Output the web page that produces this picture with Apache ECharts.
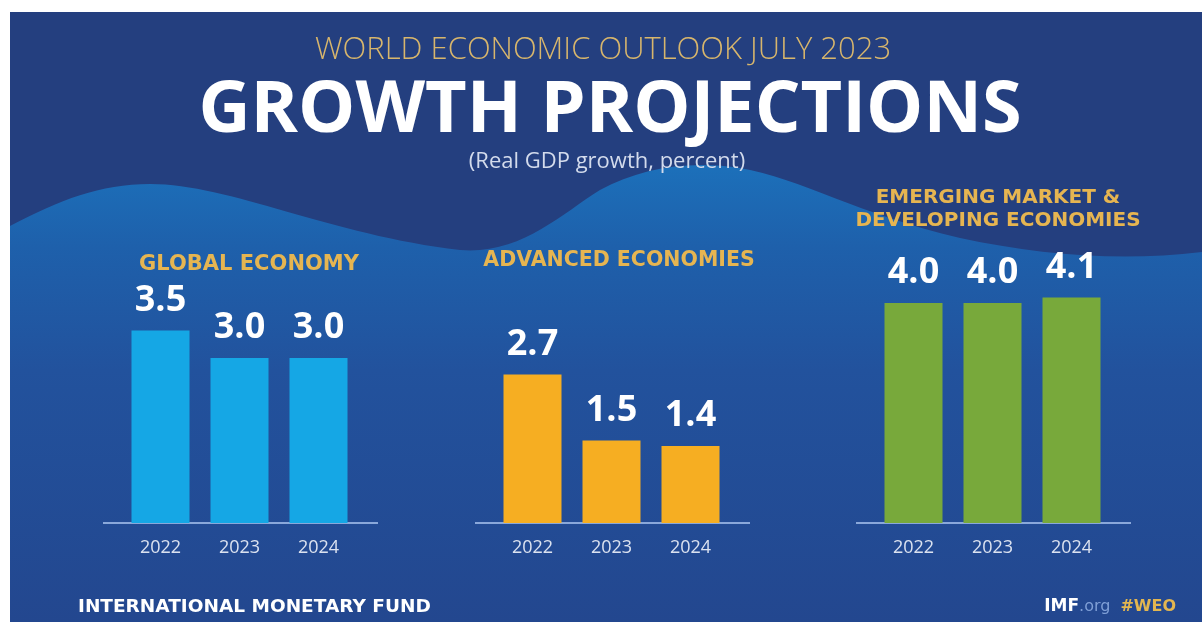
<!DOCTYPE html>
<html>
<head>
<meta charset="utf-8">
<script src="https://cdn.jsdelivr.net/npm/echarts@6/dist/echarts.min.js"></script>
<style>
html,body{margin:0;padding:0;background:#ffffff;}
#chart{width:1202px;height:632px;}
</style>
</head>
<body>
<div id="chart"></div>
<script>
// ---- data ----
const years = ['2022', '2023', '2024'];
const globalGrowth = [3.5, 3.0, 3.0];
const advancedGrowth = [2.7, 1.5, 1.4];
const emergingGrowth = [4.0, 4.0, 4.1];
const panelTitles = ['GLOBAL ECONOMY', 'ADVANCED ECONOMIES', 'EMERGING MARKET &\nDEVELOPING ECONOMIES'];

// ---- layout / style ----
const gridLefts = [121, 493, 874];
const gridWidth = 237;
const gridTop = 248;
const gridHeight = 275;
const baseY = gridTop + gridHeight;
const barColors = ['#15a7e5', '#f6ae22', '#78a93b'];
const gold = '#e6b551';
const seriesData = [globalGrowth, advancedGrowth, emergingGrowth];

const wavePath = 'M10,226 C60,200 100,184 150,184 C230,184 330,235 460,250 ' +
  'C520,255 560,215 600,190 C640,168 690,160 740,168 C800,178 860,215 960,238 ' +
  'C1040,255 1120,262 1202,252 L1202,622 L10,622 Z';
let waveOk = false;
try {
  echarts.graphic.registerShape('wave', echarts.graphic.extendPath(wavePath, {}));
  waveOk = true;
} catch (e) { waveOk = false; }

const chart = echarts.init(document.getElementById('chart'), null, {renderer: 'canvas'});

const grids = gridLefts.map(l => ({left: l, width: gridWidth, top: gridTop, height: gridHeight}));
const xAxes = gridLefts.map((l, i) => ({
  type: 'category', gridIndex: i, data: years,
  axisLine: {show: false}, axisTick: {show: false},
  axisLabel: {color: '#dbe2f0', fontSize: 18, fontFamily: 'Open Sans', margin: 16}
}));
const yAxes = gridLefts.map((l, i) => ({
  type: 'value', gridIndex: i, min: 0, max: 5, show: false, splitLine: {show: false}
}));
const series = seriesData.map((d, i) => ({
  type: 'bar', xAxisIndex: i, yAxisIndex: i, data: d, barWidth: 58,
  itemStyle: {color: barColors[i]},
  label: {
    show: true, position: 'top', distance: 12,
    color: '#ffffff', fontSize: 36, fontWeight: 'bold', fontFamily: 'Open Sans',
    formatter: p => p.value.toFixed(1)
  }
}));

const graphics = [
  {type: 'rect', z: -10, shape: {x: 10, y: 12, width: 1192, height: 610}, style: {fill: '#243f7f'}}
];
if (waveOk) {
  graphics.push({type: 'wave', z: -9,
    style: {fill: new echarts.graphic.LinearGradient(0, 0, 0, 1, [
      {offset: 0, color: '#1c70ba'}, {offset: 0.18, color: '#1e60ab'},
      {offset: 0.45, color: '#22529d'}, {offset: 1, color: '#23478f'}])}});
}
graphics.push(
  {type: 'text', z: 10, x: 603, y: 50, style: {text: 'WORLD ECONOMIC OUTLOOK JULY 2023', fill: '#d8b66c',
    font: '300 31px "Open Sans"', textAlign: 'center', textVerticalAlign: 'middle'}},
  {type: 'text', z: 10, x: 610, y: 111, style: {text: 'GROWTH PROJECTIONS', fill: '#ffffff',
    font: 'bold 72px "Open Sans"', textAlign: 'center', textVerticalAlign: 'middle'}},
  {type: 'text', z: 10, x: 607, y: 162, style: {text: '(Real GDP growth, percent)', fill: '#d3dbec',
    font: '22px "Open Sans"', textAlign: 'center', textVerticalAlign: 'middle'}},
  {type: 'text', z: 10, x: 249, y: 265, style: {text: panelTitles[0], fill: gold,
    font: 'bold 21px "DejaVu Sans"', textAlign: 'center', textVerticalAlign: 'middle'}},
  {type: 'text', z: 10, x: 619, y: 261, style: {text: panelTitles[1], fill: gold,
    font: 'bold 20.5px "DejaVu Sans"', textAlign: 'center', textVerticalAlign: 'middle'}},
  {type: 'text', z: 10, x: 998, y: 209, style: {text: panelTitles[2], fill: gold,
    font: 'bold 20px "DejaVu Sans"', textAlign: 'center', textVerticalAlign: 'middle', lineHeight: 23}},
  {type: 'text', z: 10, x: 78, y: 607, style: {text: 'INTERNATIONAL MONETARY FUND', fill: '#ffffff',
    font: 'bold 18.5px "DejaVu Sans"', textAlign: 'left', textVerticalAlign: 'middle'}},
  {type: 'text', z: 10, x: 1176, y: 607, style: {
    text: '{a|IMF}{b|.org}   {c|#WEO}', textAlign: 'right', textVerticalAlign: 'middle',
    rich: {
      a: {fill: '#ffffff', font: 'bold 17px "DejaVu Sans"'},
      b: {fill: '#7f9fd6', font: '16px "DejaVu Sans"'},
      c: {fill: '#e3b650', font: 'bold 16px "DejaVu Sans"'}
    }}}
);
gridLefts.forEach(l => {
  graphics.push({type: 'line', z: 1, shape: {x1: l - 18, y1: baseY, x2: l + gridWidth + 20, y2: baseY},
    style: {stroke: '#8aa8da', lineWidth: 2}});
});

chart.setOption({
  backgroundColor: '#ffffff',
  animation: false,
  grid: grids,
  xAxis: xAxes,
  yAxis: yAxes,
  series: series,
  graphic: graphics
});
</script>
</body>
</html>
